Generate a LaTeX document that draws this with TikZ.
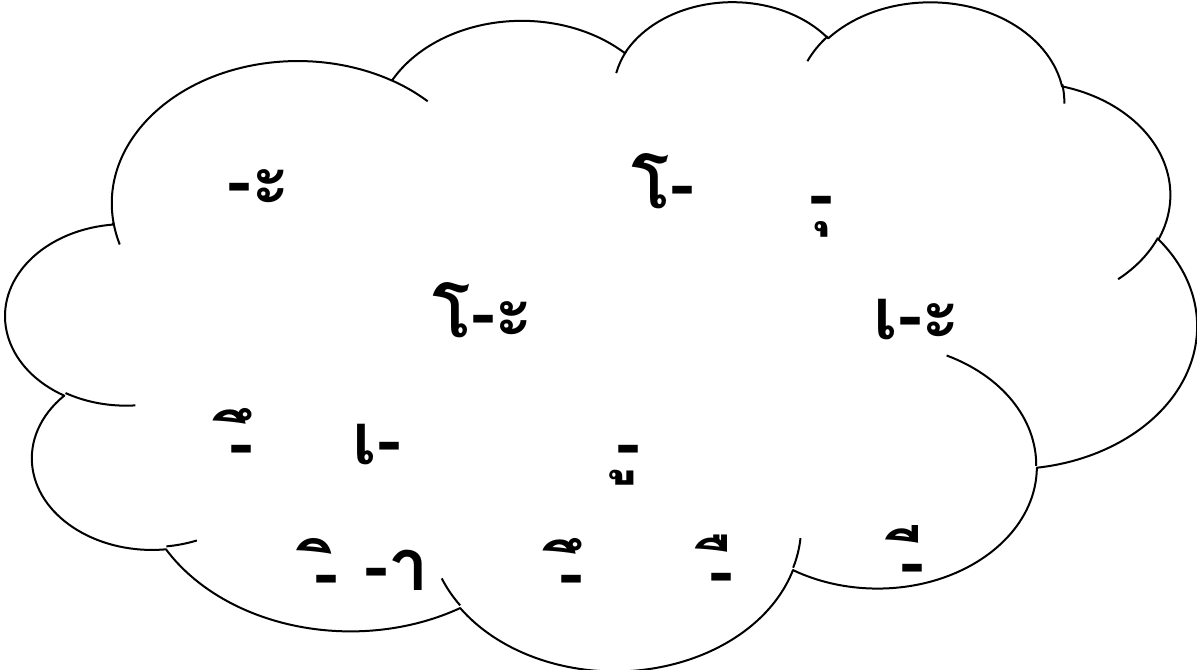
\documentclass[tikz,border=0pt]{standalone}
\usepackage{fontspec}
\newfontfamily\thaifont[Script=Thai]{Loma}
\tikzset{
  vowel/.style={font=\thaifont\bfseries\fontsize{36}{40}\selectfont, anchor=base, inner sep=0pt},
  cloudedge/.style={draw=black, line width=1pt, line join=round},
  varc/.code args={#1/#2/#3/#4}{%
    \pgfmathsetmacro\arcst{atan2((#1)*sin(#3),(#2)*cos(#3))}%
    \pgfmathsetmacro\arcen{atan2((#1)*sin((#3)+(#4)),(#2)*cos((#3)+(#4)))}%
    \pgfmathsetmacro\arcdl{mod(\arcen-\arcst+720,360)}%
    \edef\arctmp{\noexpand\pgfkeysalso{x radius=#1,y radius=#2,start angle=\arcst,delta angle=\arcdl}}\arctmp},
}
\begin{document}
\begin{tikzpicture}[x=0.5pt, y=-0.5pt]
\useasboundingbox (0,0) rectangle (1197,669);
\begin{scope}[xshift=3pt, x=1.378pt, y=-0.7743056pt]
% cloud outline
\draw[cloudedge] (39.00,143.70)
  arc[varc=67.53/91.90/-190.48748/123.78053]
  arc[varc=53.33/72.67/-144.10238/89.94523]
  arc[varc=43.65/59.45/-145.80792/99.72302]
  arc[varc=48.57/65.95/-130.98607/117.24173]
  arc[varc=53.33/72.73/-78.70888/109.02692]
  arc[varc=67.75/92.20/-46.26725/130.26900]
  arc[varc=57.85/78.67/0.62502/114.03333]
  arc[varc=67.52/92.15/22.45160/115.17255]
  arc[varc=77.20/105.43/66.24263/75.71102]
  arc[varc=43.60/59.18/-274.94208/146.73557]
  arc[varc=43.45/59.45/-246.82850/152.51885] -- cycle;
% inner folds
\draw[cloudedge] (46.93,261.77) arc[varc=43.45/59.45/86.74200/26.42950]
  (69.28,348.99) arc[varc=43.60/59.18/73.61047/11.44747]
  (164.78,390.90) arc[varc=67.52/92.15/137.62415/14.08110]
  (288.27,347.51) arc[varc=67.52/92.15/6.45327/15.99835]
  (341.29,229.54) arc[varc=57.85/78.67/-70.29235/70.91737]
  (417.98,153.54) arc[varc=53.33/72.73/30.31803/27.75150]
  (383.24,54.26) arc[varc=48.57/65.95/-13.74433/14.85890]
  (290.78,39.52) arc[varc=48.57/65.95/-149.18145/18.19537]
  (221.41,47.20) arc[varc=43.65/59.45/-163.49427/17.68635]
  (140.00,51.92) arc[varc=67.53/91.90/-66.70695/12.31935]
  (41.27,157.89) arc[varc=67.53/91.90/157.65435/11.85817];
\end{scope}
% vowels
\node[vowel] (sara-a) at (259,205) {-ะ};
\node[vowel] (sara-o) at (663,208) {โ-};
\node[vowel] (sara-u) at (821,218) {-ุ};
\node[vowel] (sara-o-a) at (483,337) {โ-ะ};
\node[vowel] (sara-e-a) at (917,339) {เ-ะ};
\node[vowel] (sara-ue) at (241,467) {-ึ};
\node[vowel] (sara-e) at (377,464) {เ-};
\node[vowel] (sara-uu) at (628,467) {-ู};
\node[vowel] (sara-i) at (326,597) {-ิ};
\node[vowel] (sara-aa) at (397,590) {-า};
\node[vowel] (sara-ue2) at (571,597) {-ึ};
\node[vowel] (sara-uee) at (721,595) {-ื};
\node[vowel] (sara-ii) at (912,586) {-ี};
\end{tikzpicture}
\end{document}
